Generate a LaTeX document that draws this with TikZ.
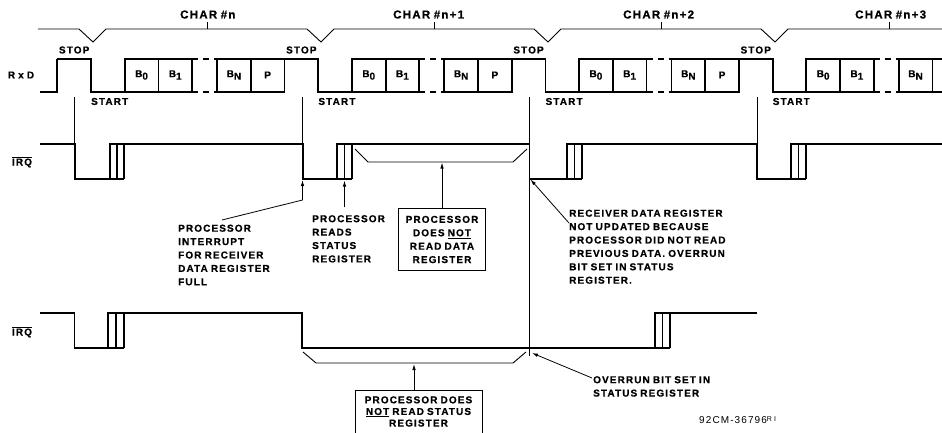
\documentclass[tikz,border=0pt]{standalone}
\usepackage{fontspec}
\setmainfont{Liberation Sans}[LetterSpace=11, WordSpace=0.8, BoldFeatures={FakeBold=0.6}]
\usetikzlibrary{arrows.meta}
\begin{document}
\begin{tikzpicture}[x=1pt,y=-1pt,
  sig/.style={line width=1.8pt, line join=miter},
  thin/.style={line width=0.6pt},
  brace/.style={line width=0.9pt},
  lbl/.style={font=\fontsize{10}{13.4}\selectfont\bfseries, inner sep=0pt},
  chlbl/.style={font=\fontsize{11.5}{13}\selectfont\bfseries, inner sep=0pt, anchor=base west},
  arr/.style={line width=0.8pt, -{Latex[length=6pt,width=3.5pt]}},
]
\useasboundingbox (0,0) rectangle (942,433);
\clip (0,0) rectangle (942,433);
\def\w{33.7}
% ---------- RxD ----------
\node[lbl] (rxd) at (21,75) {R x D};
\draw[sig] (40,92) -- (57.3,92) -- (57.3,59);
\foreach \c in {0,1,2,3} {
  \pgfmathsetmacro\s{91+227.2*\c}
  \pgfmathsetmacro\t{\s+116.5}
  \draw[sig] (\s-\w,59) -- (\s,59) -- (\s,92) -- (\s+3*\w,92);
  \draw[sig] (\s+\w,92) -- (\s+\w,59) -- (\s+3*\w,59) -- (\s+3*\w,92);
  \draw[sig] (\s+2*\w,59) -- (\s+2*\w,92);
  \draw[sig, dash pattern=on 6pt off 5pt] (\s+3*\w,59) -- (\s+3*\w+25,59);
  \draw[sig, dash pattern=on 6pt off 5pt] (\s+3*\w,92) -- (\s+3*\w+25,92);
  \draw[sig] (\s+3*\w+25,59) -- (\s+5*\w+25,59) -- (\s+5*\w+25,92) -- (\s+3*\w+25,92) -- cycle;
  \draw[sig] (\s+4*\w+25,59) -- (\s+4*\w+25,92);
  \node[lbl] (bz\c) at (\s+1.5*\w,75) {B\raisebox{-2.5pt}{0}};
  \node[lbl] (bo\c) at (\s+2.5*\w,75) {B\raisebox{-2.5pt}{1}};
  \node[lbl] (bn\c) at (\s+3.5*\w+25,75) {B\raisebox{-2.5pt}{N}};
  \node[lbl] (stop\c) at (\s-\w/2,50) {STOP};
  \node[lbl,anchor=west] (start\c) at (\s,101.5) {START};
  \draw[brace] (\t,29) -- (\t,22);
}
\foreach \c in {0,1,2} {
  \pgfmathsetmacro\s{91+227.2*\c}
  \node[lbl] (bp\c) at (\s+4.5*\w+25,75) {P};
}
\node[chlbl] (ch0) at (180,18.5) {CHAR \#n};
\node[chlbl] (ch1) at (393,18.5) {CHAR \#n+1};
\node[chlbl] (ch2) at (623,18.5) {CHAR \#n+2};
\node[chlbl] (ch3) at (855,18.5) {CHAR \#n+3};
\draw[brace] (38,29) -- (79,29) -- (93,42) -- (106,29) -- (307,29) -- (321,42) -- (334,29)
  -- (534,29) -- (548,42) -- (561,29) -- (761,29) -- (775,42) -- (788,29) -- (942,29);
% ---------- markers ----------
\draw[thin] (74.5,97) -- (74.5,144);
\draw[thin] (302.5,97) -- (302.5,144);
\draw[thin] (529.5,97) -- (529.5,356);
\draw[thin] (757,97) -- (757,144);
% ---------- upper IRQ ----------
\node[lbl] (irqa) at (22,162) {$\overline{\hbox{IRQ}}$};
\draw[sig] (40,144) -- (75,144) -- (75,179) -- (124,179);
\draw[sig] (110,179) -- (110,144) -- (303,144) -- (303,179) -- (352,179);
\draw[sig] (117,179) -- (117,144) (124,179) -- (124,144);
\draw[sig] (337,179) -- (337,144) -- (529.5,144) -- (529.5,179) -- (582,179);
\draw[sig] (344.5,179) -- (344.5,144) (352,179) -- (352,144);
\draw[sig] (567,179) -- (567,144) -- (757,144) -- (757,179) -- (806,179);
\draw[sig] (574.5,179) -- (574.5,144) (582,179) -- (582,144);
\draw[sig] (791,179) -- (791,144) -- (942,144);
\draw[sig] (798.5,179) -- (798.5,144) (806,179) -- (806,144);
% brace upper
\draw[brace] (355,149) -- (368,162) -- (513,162) -- (527,149);
\coordinate (bu) at (441,162.5);
\node[lbl, draw, line width=1pt, align=center, minimum width=87pt, minimum height=62pt] (pdn) at (442,239.5)
  {PROCESSOR\\DOES \underline{NOT}\\READ DATA\\REGISTER};
\draw[arr] (pdn.north) -- (pdn.north |- bu);
% labels upper
\node[lbl, align=left, anchor=north west] (pint) at (178,224.5)
  {PROCESSOR\\INTERRUPT\\FOR RECEIVER\\DATA REGISTER\\FULL};
\coordinate (pintA) at (222,220);
\coordinate (irqf) at (302.5,180);
\draw[arr] (pintA) -- (302.5,200) -- (irqf);
\node[lbl, align=left, anchor=north west] (prs) at (312,215)
  {PROCESSOR\\READS\\STATUS\\REGISTER};
\coordinate (prsA) at (344.5,207);
\coordinate (prsT) at (344.5,180.5);
\draw[arr] (prsA) -- (prsT);
\node[lbl, align=left, anchor=north west] (rdr) at (569,209.5)
  {RECEIVER DATA REGISTER\\NOT UPDATED BECAUSE\\PROCESSOR DID NOT READ\\PREVIOUS DATA. OVERRUN\\BIT SET IN STATUS\\REGISTER.};
\coordinate (rdrA) at (569,223);
\coordinate (rdrT) at (530.5,179.5);
\draw[arr] (rdrA) -- (rdrT);
% ---------- lower IRQ ----------
\node[lbl] (irqb) at (22,332) {$\overline{\hbox{IRQ}}$};
\draw[sig] (40,313) -- (74.5,313) -- (74.5,348) -- (124,348);
\draw[sig] (108,348) -- (108,313) -- (302,313) -- (302,348) -- (670,348);
\draw[sig] (116,348) -- (116,313) (124,348) -- (124,313);
\draw[sig] (655,348) -- (655,313) -- (757,313);
\draw[sig] (662.5,348) -- (662.5,313) (670,348) -- (670,313);
\draw[brace] (303,352) -- (316,363) -- (513,363) -- (526,352);
\coordinate (bl) at (414,364);
\node[lbl, align=center, font=\fontsize{10}{11.6}\selectfont\bfseries] (pdns) at (418.5,411.5)
  {PROCESSOR DOES\\\underline{NOT} READ STATUS\\REGISTER};
\draw[line width=1pt] (355,440) -- (355,390) -- (482,390) -- (482,440);
\coordinate (pdnsT) at (414,390);
\draw[arr] (pdnsT) -- (bl);
\node[lbl, align=left, anchor=north west] (ovr) at (593,376)
  {OVERRUN BIT SET IN\\STATUS REGISTER};
\coordinate (ovrA) at (592,378);
\coordinate (ovrT) at (532,353);
\draw[arr] (ovrA) -- (ovrT);
\node[anchor=west, inner sep=0pt, font=\fontsize{10}{12}\selectfont] (ref) at (699,420)
  {92CM-36796\raisebox{2pt}{\fontsize{7}{7}\selectfont R I}};
\end{tikzpicture}
\end{document}
